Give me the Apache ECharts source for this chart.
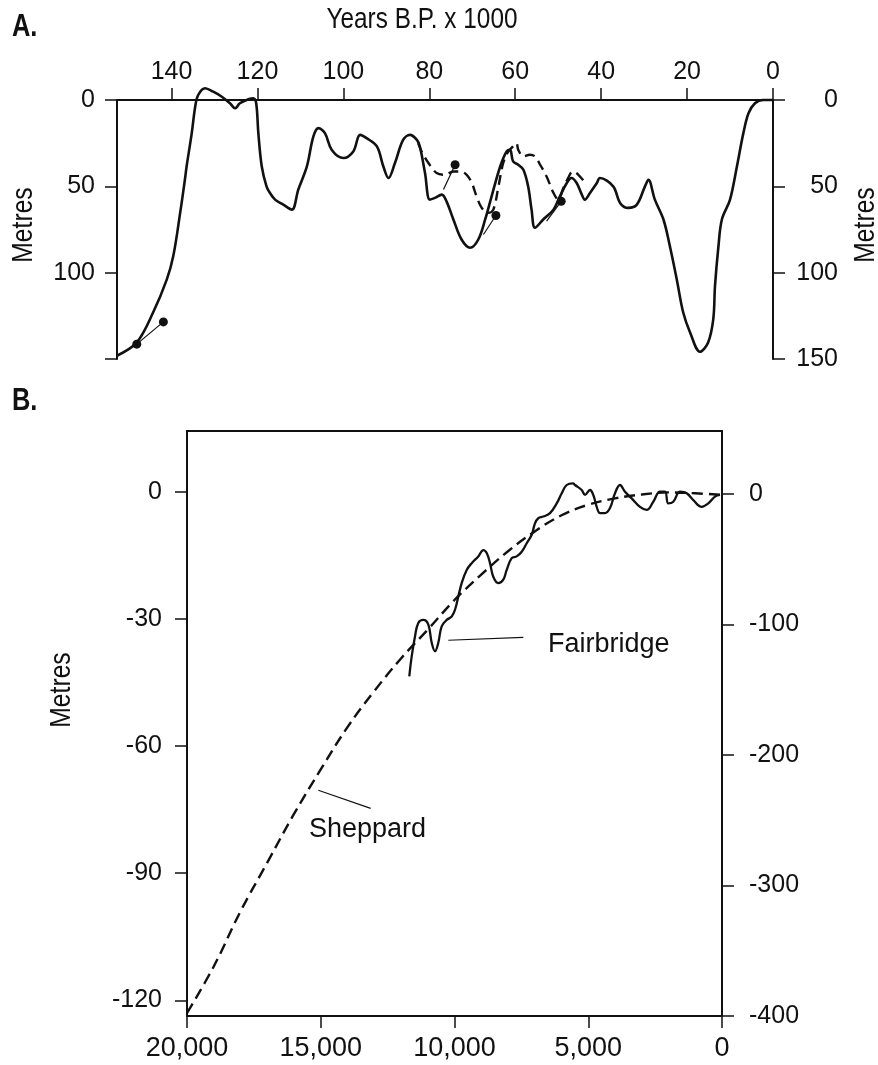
<!DOCTYPE html>
<html>
<head>
<meta charset="utf-8">
<script src="https://cdn.jsdelivr.net/npm/echarts@6/dist/echarts.min.js"></script>
<style>
  html, body { margin: 0; padding: 0; background: #ffffff; }
  #main { width: 878px; height: 1065px; }
</style>
</head>
<body>
<div id="main"></div>
<script>
// ---------- Panel A data (years B.P. x 1000, metres below present) ----------
var tickYearsA = [0, 20, 40, 60, 80, 100, 120, 140];
var tickMetresA = [0, 50, 100, 150];
var labelMetresALeft = [0, 50, 100];
var labelMetresARight = [0, 50, 100, 150];

var solidA = [
  [152.7,148.1],[148.1,140.4],[144.3,123.1],[141.1,103.9],[139.6,90.4],[138.0,65.4],[136.9,46.2],
  [136.5,38.5],[135.3,19.2],[134.5,3.9],[133.8,-2.9],[132.2,-6.8],[130.3,-4.8],[128.3,-1.9],
  [126.4,1.9],[125.2,4.8],[124.1,1.9],[122.1,-0.4],[121.0,-1.0],[120.3,1.9],[119.8,19.2],
  [119.0,38.5],[117.9,50.0],[117.1,53.8],[115.9,57.7],[114.0,60.6],[112.0,63.5],[110.5,51.9],
  [108.5,38.5],[107.0,21.2],[105.8,16.3],[104.3,19.2],[102.7,28.9],[100.0,33.6],[97.7,29.8],
  [96.1,20.2],[94.6,22.1],[92.2,26.9],[90.7,38.5],[89.5,45.2],[88.0,36.5],[86.1,23.1],
  [84.5,20.2],[82.9,23.1],[82.2,26.9],[81.0,42.3],[79.9,57.7],[78.7,56.7],[77.1,54.8],
  [76.0,58.7],[74.4,69.2],[72.5,80.8],[70.5,85.6],[68.6,80.8],[67.0,69.2],[65.5,55.8],
  [63.5,38.5],[62.0,29.8],[61.2,28.9],[60.5,35.6],[59.3,37.5],[58.1,40.4],[57.0,50.0],
  [56.2,63.5],[55.4,74.0],[53.5,69.2],[51.1,63.5],[49.6,55.8],[48.0,48.1],[46.9,45.2],
  [45.7,48.1],[44.5,54.8],[43.8,57.7],[42.6,53.8],[41.0,48.1],[40.3,45.2],[37.2,50.0],
  [35.6,59.6],[33.7,62.5],[31.7,60.6],[29.8,50.0],[29.0,46.2],[27.5,57.7],[25.5,69.2],
  [24.0,84.7],[22.4,103.9],[20.9,123.1],[19.3,134.6],[17.0,145.8],[15.1,140.4],[13.9,126.9],
  [13.5,107.7],[12.7,84.7],[11.9,69.2],[10.0,57.7],[8.4,38.5],[6.9,19.2],[5.7,7.7],
  [4.2,1.9],[2.3,0],[0,0]
];

var dashedA = [
  [82.6,25.0],[81.8,29.8],[80.2,36.5],[78.3,42.3],[76.4,43.3],[74.4,41.4],[72.9,41.4],
  [71.3,43.3],[70.1,48.1],[69.0,55.8],[67.8,62.5],[66.3,65.4],[65.1,63.5],[63.9,50.0],
  [62.8,36.5],[61.6,29.8],[60.5,26.9],[59.7,25.0],[59.3,28.9],[58.1,32.7],[56.6,31.7],
  [55.4,32.7],[54.2,37.5],[52.7,44.3],[51.1,53.8],[50.0,57.7],[48.8,51.0],[47.7,45.2],
  [46.6,41.4],[45.3,43.3],[43.4,49.0]
];

var dotsA = [[141.9,128.5],[148.1,141.4],[74.0,37.5],[64.5,66.9],[49.3,58.7]];
var leadersA = [
  [[148.1,141.4],[141.9,128.5]],
  [[76.7,51.9],[74.0,37.5]],
  [[67.4,77.9],[64.5,66.9]],
  [[52.7,70.2],[49.3,58.7]]
];

// ---------- Panel B data (years B.P., metres / feet) ----------
var tickMetresB = [-120, -90, -60, -30, 0];
var tickFeetB = [-400, -300, -200, -100, 0];

var sheppard = [
  [20000,-123],[19000,-112],[18000,-99],[17000,-87.5],[16000,-76],[15000,-65.5],[14000,-55.5],
  [13000,-47],[12000,-39.3],[11000,-32.5],[10000,-25.5],[9000,-19.5],[8000,-14],[7000,-9.3],
  [6000,-5.5],[5000,-3],[4000,-1.5],[3000,-0.6],[2000,-0.1],[1000,-0.3],[0,-0.7]
];

var fairbridge = [
  [11690,-43.5],[11600,-38.8],[11477,-34.1],[11353,-30.9],[11166,-30.2],[10979,-31.3],
  [10852,-35.6],[10729,-37.6],[10606,-35.6],[10479,-31.7],[10291,-30.2],[10105,-29.4],
  [9981,-27.8],[9858,-24.7],[9731,-21.5],[9544,-18.4],[9357,-16.8],[9110,-15.2],[8923,-13.7],
  [8796,-14.4],[8673,-16.8],[8550,-20.0],[8363,-21.5],[8176,-20.7],[8049,-18.4],[7862,-15.6],
  [7675,-15.2],[7488,-14.1],[7301,-12.1],[7114,-10.1],[6991,-7.4],[6867,-6.2],[6680,-5.8],
  [6430,-5.0],[6179,-2.7],[5992,-0.3],[5806,1.65],[5570,2.05],[5495,1.65],[5245,0.47],
  [5121,-0.7],[4935,0.47],[4811,-0.7],[4684,-3.5],[4561,-5.0],[4374,-5.0],[4187,-3.8],
  [4000,-0.3],[3813,1.65],[3626,0.07],[3376,-1.5],[3065,-3.5],[2815,-4.2],[2568,-2.3],
  [2318,0.07],[2131,0.07],[2007,-2.7],[1821,-2.3],[1570,0.07],[1320,-0.3],[1073,-1.9],
  [759,-3.5],[512,-2.7],[262,-1.1],[75,-0.7]
];

var leaderFairbridge = [[10232,-35.0],[7428,-34.3]];
var leaderSheppard = [[15091,-70.4],[13133,-74.7]];
var labelsB = [
  {name: 'Fairbridge', value: [6654,-36.05]},
  {name: 'Sheppard', value: [15589,-79.6]}
];

// ---------- chart ----------
var INK = '#111111';
var FONT = "'Liberation Sans',Arial,sans-serif";

function axisBase(extra) {
  var a = {
    type: 'value',
    splitLine: {show: false},
    axisLine: {show: true, onZero: false, lineStyle: {color: INK, width: 2}},
    axisTick: {show: true, inside: false, length: 12, lineStyle: {color: INK, width: 1.5}},
    axisLabel: {color: INK, fontFamily: FONT, fontSize: 25}
  };
  for (var k in extra) {
    if (typeof extra[k] === 'object' && !Array.isArray(extra[k]) && a[k]) {
      for (var j in extra[k]) a[k][j] = extra[k][j];
    } else a[k] = extra[k];
  }
  return a;
}

var chart = echarts.init(document.getElementById('main'));
var series = [];

series.push({
  type: 'line', xAxisIndex: 0, yAxisIndex: 0, data: solidA, smooth: 0.35,
  showSymbol: false, clip: false, silent: true,
  lineStyle: {color: INK, width: 2.6}
});
series.push({
  type: 'line', xAxisIndex: 0, yAxisIndex: 0, data: dashedA, smooth: 0.35,
  showSymbol: false, clip: false, silent: true,
  lineStyle: {color: INK, width: 2.4, type: [10, 6]}
});
leadersA.forEach(function (seg) {
  series.push({
    type: 'line', xAxisIndex: 0, yAxisIndex: 0, data: seg, showSymbol: false,
    silent: true, lineStyle: {color: INK, width: 1.2}
  });
});
series.push({
  type: 'scatter', xAxisIndex: 0, yAxisIndex: 0, data: dotsA, symbolSize: 9,
  itemStyle: {color: INK, opacity: 1}, silent: true
});

series.push({
  type: 'line', xAxisIndex: 1, yAxisIndex: 2, data: sheppard, smooth: 0.4,
  showSymbol: false, clip: false, silent: true,
  lineStyle: {color: INK, width: 2.4, type: [11, 6]}
});
series.push({
  type: 'line', xAxisIndex: 1, yAxisIndex: 2, data: fairbridge, smooth: 0.4,
  showSymbol: false, silent: true,
  lineStyle: {color: INK, width: 2.3}
});
[leaderFairbridge, leaderSheppard].forEach(function (seg) {
  series.push({
    type: 'line', xAxisIndex: 1, yAxisIndex: 2, data: seg, showSymbol: false,
    silent: true, lineStyle: {color: INK, width: 1.2}
  });
});
series.push({
  type: 'scatter', xAxisIndex: 1, yAxisIndex: 2, data: labelsB, symbolSize: 0, silent: true,
  itemStyle: {opacity: 1},
  label: {show: true, position: 'right', distance: 4, formatter: '{b}', opacity: 1,
          color: INK, fontFamily: FONT, fontSize: 27}
});

function txt(x, y, s, size, opts) {
  opts = opts || {};
  return {
    type: 'text', x: x, y: y, rotation: opts.rot || 0, scaleX: opts.sx || 0.82,
    style: {text: s, fontFamily: FONT, fontSize: size, fontWeight: opts.bold ? 'bold' : 'normal',
            fill: INK, align: opts.align || 'center', verticalAlign: 'middle'}
  };
}

var option = {
  animation: false,
  backgroundColor: '#ffffff',
  grid: [
    {left: 117, top: 100, width: 656, height: 259},
    {left: 187, top: 431, width: 535, height: 585, show: true,
     borderColor: INK, borderWidth: 2, backgroundColor: 'transparent'}
  ],
  xAxis: [
    axisBase({gridIndex: 0, position: 'top', inverse: true, min: 0, max: 152.7,
      axisTick: {customValues: tickYearsA},
      axisLabel: {customValues: tickYearsA, margin: 15}}),
    axisBase({gridIndex: 1, position: 'bottom', inverse: true, min: 0, max: 20000, interval: 5000,
      axisLabel: {margin: 19, fontSize: 27,
        formatter: function (v) { return v.toLocaleString('en-US'); }}})
  ],
  yAxis: [
    axisBase({gridIndex: 0, position: 'left', inverse: true, min: 0, max: 150,
      axisTick: {customValues: tickMetresA},
      axisLabel: {customValues: labelMetresALeft, margin: 22}}),
    axisBase({gridIndex: 0, position: 'right', inverse: true, min: 0, max: 150,
      axisTick: {customValues: tickMetresA},
      axisLabel: {customValues: labelMetresARight, margin: 65, align: 'right'}}),
    axisBase({gridIndex: 1, position: 'left', min: -123.7, max: 14.4,
      axisTick: {customValues: tickMetresB},
      axisLabel: {customValues: tickMetresB, margin: 25}}),
    axisBase({gridIndex: 1, position: 'right', min: -400, max: 48.3,
      axisTick: {customValues: tickFeetB},
      axisLabel: {customValues: tickFeetB, margin: 27}})
  ],
  graphic: [
    txt(12, 27, 'A.', 31, {bold: true, align: 'left'}),
    txt(12, 401, 'B.', 31, {bold: true, align: 'left'}),
    txt(422, 20, 'Years B.P. x 1000', 29, {sx: 0.84}),
    txt(24, 225, 'Metres', 29, {rot: Math.PI / 2, sx: 0.85}),
    txt(866, 225, 'Metres', 29, {rot: Math.PI / 2, sx: 0.85}),
    txt(62, 690, 'Metres', 29, {rot: Math.PI / 2, sx: 0.85})
  ],
  series: series
};
chart.setOption(option);
</script>
</body>
</html>
